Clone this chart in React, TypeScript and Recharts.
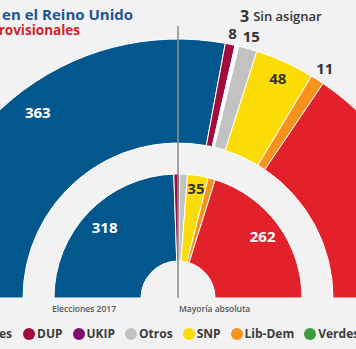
import React from 'react';
import { PieChart, Pie, Cell } from 'recharts';

// escaños 2019 (anillo exterior, provisionales)
const parties2019 = ['Conservadores', 'DUP', 'Sin asignar', 'Otros', 'SNP', 'Lib-Dem', 'Laboristas'];
const seats2019 = [363, 8, 3, 15, 48, 11, 202];

// escaños 2017 (anillo interior)
const parties2017 = ['Conservadores', 'DUP', 'Otros', 'SNP', 'Lib-Dem', 'Laboristas'];
const seats2017 = [318, 10, 13, 35, 12, 262];

const legendLeft = ['Laboristas', 'Conservadores'];
const legendRight = ['DUP', 'UKIP', 'Otros', 'SNP', 'Lib-Dem', 'Verdes'];

const COLORS: Record<string, string> = {
  Conservadores: '#02588d',
  Laboristas: '#e3212a',
  DUP: '#a30b3b',
  UKIP: '#7c0d6e',
  Otros: '#c2c2c2',
  SNP: '#fcdc06',
  'Lib-Dem': '#f7931d',
  Verdes: '#3a9d3a',
  'Sin asignar': '#ffffff',
};

const BG = '#f2f2f2';
const FONT = '"Open Sans", sans-serif';

// radio (y giro) del rótulo y color para cada partido con número visible
type LabelConf = { r: number; da?: number; fill: string };
const labels2019: Record<string, LabelConf> = {
  Conservadores: { r: 233, da: -2.75, fill: '#fff' },
  DUP: { r: 271, fill: '#333' },
  Otros: { r: 272, fill: '#333' },
  SNP: { r: 242, fill: '#333' },
  'Lib-Dem': { r: 273, fill: '#333' },
  Laboristas: { r: 233, fill: '#fff' },
};
const labels2017: Record<string, LabelConf> = {
  Conservadores: { r: 102, fill: '#fff' },
  SNP: { r: 111, fill: '#333' },
  Laboristas: { r: 105, fill: '#fff' },
};

const data2019 = parties2019.map((name, i) => ({ name, value: seats2019[i] }));
const data2017 = parties2017.map((name, i) => ({ name, value: seats2017[i] }));

const RADIAN = Math.PI / 180;

const makeLabel = (conf: Record<string, LabelConf>) => (props: any) => {
  const { cx, cy, midAngle, name, value } = props;
  if (name === 'Sin asignar') {
    const x = cx + 290 * Math.cos(-midAngle * RADIAN);
    const y = cy + 290 * Math.sin(-midAngle * RADIAN);
    return (
      <text x={x - 4} y={y} dominantBaseline="central" fontFamily={FONT} fill="#333">
        <tspan fontSize={16} fontWeight={700}>{value}</tspan>
        <tspan fontSize={13} fontWeight={600} dx={4}>Sin asignar</tspan>
      </text>
    );
  }
  const c = conf[name];
  if (!c) return null;
  const a = -(midAngle + (c.da || 0)) * RADIAN;
  const x = cx + c.r * Math.cos(a);
  const y = cy + c.r * Math.sin(a);
  return (
    <text x={x} y={y} textAnchor="middle" dominantBaseline="central" fontFamily={FONT}
      fontSize={15} fontWeight={700} fill={c.fill}>
      {value}
    </text>
  );
};

const Dot = ({ color }: { color: string }) => (
  <span style={{ display: 'inline-block', width: 12, height: 12, borderRadius: '50%', background: color, marginRight: 2 }} />
);

const legendItem = (name: string) => (
  <span key={name} style={{ display: 'inline-flex', alignItems: 'center' }}>
    <Dot color={COLORS[name]} />
    {name}
  </span>
);

const legendStyle: React.CSSProperties = {
  position: 'absolute', top: 326, display: 'flex', gap: 10, whiteSpace: 'nowrap',
  fontFamily: FONT, fontSize: 12, fontWeight: 700, color: '#3a3a3a', lineHeight: '16px',
};

export default function App() {
  return (
    <div style={{ position: 'absolute', left: 0, top: 0, width: 356, height: 349, background: BG, overflow: 'hidden' }}>
      <PieChart width={356} height={349} margin={{ top: 0, right: 0, bottom: 0, left: 0 }}
        style={{ position: 'absolute', left: 0, top: 0 }}>
        <Pie data={data2019} dataKey="value" nameKey="name" cx={178} cy={298} startAngle={180} endAngle={0}
          innerRadius={155} outerRadius={259} stroke="#ffffff" strokeWidth={1}
          label={makeLabel(labels2019)} labelLine={false} isAnimationActive={false}>
          {data2019.map((d) => <Cell key={d.name} fill={COLORS[d.name]} />)}
        </Pie>
        <Pie data={data2017} dataKey="value" nameKey="name" cx={178} cy={298} startAngle={180} endAngle={0}
          innerRadius={37} outerRadius={124} stroke="#ffffff" strokeWidth={1}
          label={makeLabel(labels2017)} labelLine={false} isAnimationActive={false}>
          {data2017.map((d) => <Cell key={d.name} fill={COLORS[d.name]} />)}
        </Pie>
      </PieChart>
      <svg width={356} height={349} style={{ position: 'absolute', left: 0, top: 0, pointerEvents: 'none' }}>
        <text x={133} y={20} textAnchor="end" fontFamily={FONT} fontSize={15} fontWeight={700} fill="#1d5597">
          Elecciones en el Reino Unido
        </text>
        <text x={80} y={35} textAnchor="end" fontFamily={FONT} fontSize={13.5} fontWeight={700} fill="#d61f2b">
          Resultados provisionales
        </text>
        <line x1={178} x2={178} y1={26} y2={298} stroke="#8c8c8c" strokeWidth={1.6} />
        <text x={84} y={312} textAnchor="middle" fontFamily={FONT} fontSize={8.5} fontWeight={600} fill="#555">
          Elecciones 2017
        </text>
        <text x={179} y={312} fontFamily={FONT} fontSize={8.5} fontWeight={600} fill="#555">
          Mayoría absoluta
        </text>
      </svg>
      <div style={{ ...legendStyle, right: 344 }}>{legendLeft.map(legendItem)}</div>
      <div style={{ ...legendStyle, left: 23 }}>{legendRight.map(legendItem)}</div>
    </div>
  );
}
